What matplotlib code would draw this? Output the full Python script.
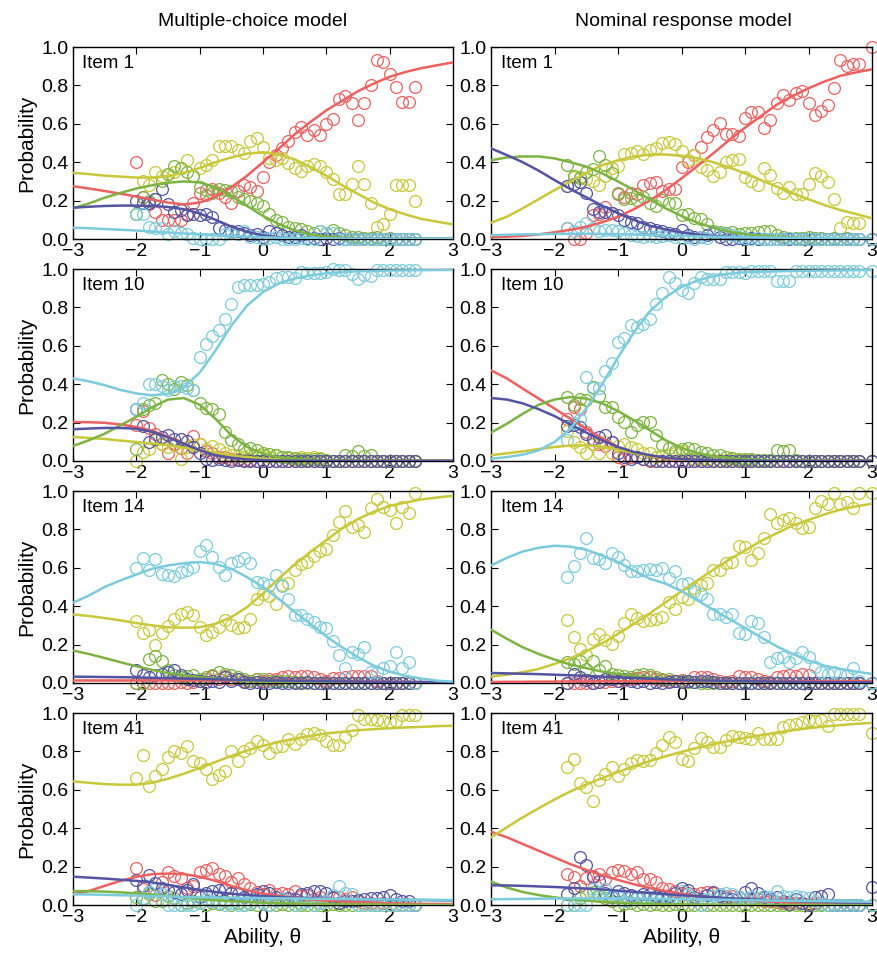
import matplotlib
matplotlib.use("Agg")
import matplotlib.pyplot as plt

plt.rcParams["font.family"] = ["Liberation Sans", "DejaVu Sans"]

# ability grid where the fitted curves were read (step 0.25)
theta = [-3.0, -2.75, -2.5, -2.25, -2.0, -1.75, -1.5, -1.25, -1.0, -0.75, -0.5, -0.25,
         0.0, 0.25, 0.5, 0.75, 1.0, 1.25, 1.5, 1.75, 2.0, 2.25, 2.5, 2.75, 3.0]

# ability bins of the observed proportions
x_mc = [-2.0, -1.9, -1.8, -1.7, -1.6, -1.5, -1.4, -1.3, -1.2, -1.1, -1.0, -0.9, -0.8,
        -0.7, -0.6, -0.5, -0.4, -0.3, -0.2, -0.1, 0.0, 0.1, 0.2, 0.3, 0.4, 0.5, 0.6,
        0.7, 0.8, 0.9, 1.0, 1.1, 1.2, 1.3, 1.4, 1.5, 1.6, 1.7, 1.8, 1.9, 2.0, 2.1,
        2.2, 2.3, 2.4]
x_nr = [-1.8, -1.7, -1.6, -1.5, -1.4, -1.3, -1.2, -1.1, -1.0, -0.9, -0.8, -0.7, -0.6,
        -0.5, -0.4, -0.3, -0.2, -0.1, 0.0, 0.1, 0.2, 0.3, 0.4, 0.5, 0.6, 0.7, 0.8,
        0.9, 1.0, 1.1, 1.2, 1.3, 1.4, 1.5, 1.6, 1.7, 1.8, 1.9, 2.0, 2.1, 2.2, 2.3,
        2.4, 2.5, 2.6, 2.7, 2.8, 3.0]

items = ["Item 1", "Item 10", "Item 14", "Item 41"]
col_titles = ["Multiple-choice model", "Nominal response model"]
options = ["red", "yellow", "green", "blue", "cyan"]
colors = {"red": "#ec6060", "yellow": "#c8c83a", "green": "#7cb442",
          "blue": "#5354a2", "cyan": "#7ccbdc"}

# ---------------- Item 1, multiple-choice ----------------
i1mc_line_red = [0.275, 0.263, 0.25, 0.236, 0.221, 0.205, 0.19, 0.18, 0.19, 0.22, 0.27, 0.33, 0.40,
                 0.47, 0.545, 0.61, 0.67, 0.72, 0.77, 0.81, 0.845, 0.87, 0.89, 0.905, 0.92]
i1mc_line_yellow = [0.345, 0.338, 0.33, 0.325, 0.32, 0.32, 0.328, 0.345, 0.37, 0.40, 0.425, 0.445, 0.452,
                    0.44, 0.415, 0.375, 0.33, 0.28, 0.235, 0.19, 0.155, 0.128, 0.105, 0.09, 0.076]
i1mc_line_green = [0.16, 0.185, 0.215, 0.24, 0.263, 0.28, 0.293, 0.30, 0.295, 0.27, 0.225, 0.172, 0.12,
                   0.078, 0.045, 0.025, 0.013, 0.007, 0.004, 0.002, 0.001, 0.001, 0.001, 0.001, 0.001]
i1mc_line_blue = [0.163, 0.168, 0.172, 0.174, 0.174, 0.172, 0.167, 0.155, 0.133, 0.10, 0.065, 0.037, 0.019,
                  0.009, 0.004, 0.002, 0.001, 0.001, 0.001, 0.001, 0.001, 0.001, 0.001, 0.001, 0.001]
i1mc_line_cyan = [0.059, 0.056, 0.052, 0.048, 0.044, 0.039, 0.034, 0.029, 0.025, 0.02, 0.016, 0.012, 0.009,
                  0.007, 0.005, 0.004, 0.003, 0.002, 0.002, 0.002, 0.001, 0.001, 0.001, 0.001, 0.001]
i1mc_pts_red = [0.40, 0.22, 0.18, 0.14, 0.10, 0.10, 0.10, 0.10, 0.13, 0.19, 0.24, 0.23, 0.26, 0.24, 0.22,
                0.19, 0.25, 0.28, 0.27, 0.25, 0.325, 0.40, 0.44, 0.475, 0.51, 0.555, 0.585, 0.54, 0.57,
                0.54, 0.60, 0.625, 0.73, 0.745, 0.71, 0.62, 0.71, 0.80, 0.93, 0.92, 0.86, 0.79, 0.715,
                0.715, 0.79]
i1mc_pts_yellow = [0.13, 0.30, 0.28, 0.35, 0.33, 0.34, 0.35, 0.37, 0.41, 0.33, 0.37, 0.385, 0.41, 0.485,
                   0.485, 0.485, 0.465, 0.45, 0.51, 0.525, 0.48, 0.42, 0.41, 0.42, 0.395, 0.37, 0.355,
                   0.38, 0.39, 0.38, 0.35, 0.31, 0.235, 0.235, 0.285, 0.38, 0.285, 0.19, 0.06, 0.08,
                   0.13, 0.28, 0.28, 0.28, 0.20]
i1mc_pts_green = [0.13, 0.22, 0.20, 0.21, 0.30, 0.34, 0.38, 0.37, 0.35, 0.33, 0.27, 0.255, 0.24, 0.26,
                  0.255, 0.25, 0.22, 0.21, 0.20, 0.185, 0.17, 0.13, 0.10, 0.09, 0.065, 0.055, 0.05, 0.04,
                  0.03, 0.04, 0.03, 0.047, 0.033, 0.02, 0.01, 0.01, 0.005, 0.005, 0.01, 0.0, 0.005, 0.0,
                  0.0, 0.0, 0.0]
i1mc_pts_blue = [0.20, 0.185, 0.185, 0.21, 0.26, 0.18, 0.14, 0.15, 0.125, 0.13, 0.125, 0.13, 0.115,
                 0.055, 0.047, 0.04, 0.04, 0.03, 0.02, 0.025, 0.012, 0.043, 0.03, 0.02, 0.012, 0.012,
                 0.02, 0.005, 0.005, 0.0, 0.005, 0.0, 0.005, 0.0, 0.0, 0.0, 0.0, 0.0, 0.0, 0.0, 0.0,
                 0.0, 0.0, 0.0, 0.0]
i1mc_pts_cyan = [0.13, 0.13, 0.06, 0.055, 0.055, 0.025, 0.043, 0.03, 0.025, 0.005, 0.0, 0.0, 0.0, 0.0,
                 0.025, 0.03, 0.025, 0.04, 0.012, 0.012, 0.0, 0.005, 0.012, 0.0, 0.0, 0.0, 0.005, 0.0,
                 0.0, 0.04, 0.033, 0.03, 0.0, 0.0, 0.0, 0.0, 0.0, 0.0, 0.0, 0.0, 0.0, 0.0, 0.0, 0.0, 0.0]

# ---------------- Item 1, nominal response ----------------
i1nr_line_red = [0.009, 0.012, 0.016, 0.024, 0.035, 0.048, 0.064, 0.087, 0.116, 0.155, 0.20, 0.255, 0.316,
                 0.38, 0.446, 0.515, 0.58, 0.64, 0.70, 0.745, 0.785, 0.82, 0.85, 0.868, 0.884]
i1nr_line_yellow = [0.085, 0.116, 0.16, 0.207, 0.255, 0.30, 0.345, 0.385, 0.41, 0.43, 0.44, 0.44, 0.434,
                    0.42, 0.40, 0.373, 0.342, 0.307, 0.273, 0.238, 0.207, 0.177, 0.151, 0.13, 0.108]
i1nr_line_green = [0.41, 0.425, 0.43, 0.43, 0.42, 0.40, 0.377, 0.342, 0.30, 0.255, 0.207, 0.16, 0.12,
                   0.085, 0.059, 0.038, 0.026, 0.017, 0.012, 0.008, 0.005, 0.004, 0.003, 0.002, 0.002]
i1nr_line_blue = [0.472, 0.437, 0.40, 0.356, 0.307, 0.26, 0.217, 0.174, 0.134, 0.099, 0.069, 0.05, 0.035,
                  0.023, 0.016, 0.01, 0.007, 0.005, 0.004, 0.003, 0.002, 0.002, 0.001, 0.001, 0.001]
i1nr_line_cyan = [0.02, 0.022, 0.024, 0.025, 0.026, 0.027, 0.027, 0.026, 0.025, 0.023, 0.021, 0.018, 0.016,
                  0.014, 0.012, 0.01, 0.009, 0.008, 0.007, 0.006, 0.005, 0.004, 0.004, 0.003, 0.003]
i1nr_pts_red = [0.055, 0.0, 0.0, 0.03, 0.125, 0.13, 0.165, 0.135, 0.235, 0.22, 0.24, 0.235, 0.28, 0.29,
                0.295, 0.25, 0.26, 0.26, 0.375, 0.40, 0.44, 0.48, 0.53, 0.57, 0.605, 0.545, 0.545, 0.535,
                0.63, 0.66, 0.66, 0.58, 0.62, 0.71, 0.75, 0.725, 0.76, 0.77, 0.71, 0.645, 0.665, 0.70,
                0.785, 0.935, 0.90, 0.91, 0.91, 1.0]
i1nr_pts_yellow = [0.275, 0.325, 0.325, 0.315, 0.30, 0.28, 0.33, 0.37, 0.38, 0.445, 0.45, 0.46, 0.445,
                   0.465, 0.475, 0.50, 0.505, 0.495, 0.46, 0.41, 0.435, 0.375, 0.36, 0.33, 0.35, 0.40,
                   0.41, 0.415, 0.325, 0.30, 0.28, 0.37, 0.335, 0.265, 0.24, 0.27, 0.235, 0.235, 0.285,
                   0.345, 0.33, 0.295, 0.21, 0.055, 0.09, 0.085, 0.085, 0.0]
i1nr_pts_green = [0.385, 0.33, 0.32, 0.35, 0.365, 0.43, 0.385, 0.345, 0.24, 0.21, 0.215, 0.205, 0.22,
                  0.19, 0.17, 0.205, 0.185, 0.19, 0.125, 0.13, 0.11, 0.105, 0.08, 0.04, 0.035, 0.03,
                  0.035, 0.025, 0.03, 0.03, 0.038, 0.043, 0.043, 0.02, 0.01, 0.005, 0.005, 0.005, 0.01,
                  0.005, 0.005, 0.0, 0.005, 0.0, 0.005, 0.0, 0.0, 0.0]
i1nr_pts_blue = [0.275, 0.285, 0.295, 0.24, 0.155, 0.14, 0.14, 0.135, 0.125, 0.10, 0.09, 0.085, 0.065,
                 0.055, 0.047, 0.04, 0.03, 0.025, 0.047, 0.02, 0.012, 0.012, 0.02, 0.03, 0.01, 0.0, 0.0,
                 0.005, 0.0, 0.005, 0.0, 0.0, 0.0, 0.0, 0.0, 0.0, 0.0, 0.0, 0.0, 0.0, 0.0, 0.0, 0.0,
                 0.0, 0.0, 0.0, 0.0, 0.0]
i1nr_pts_cyan = [0.055, 0.04, 0.065, 0.085, 0.055, 0.04, 0.045, 0.045, 0.04, 0.03, 0.02, 0.015, 0.01,
                 0.015, 0.01, 0.015, 0.02, 0.01, 0.005, 0.01, 0.0, 0.01, 0.005, 0.038, 0.033, 0.025,
                 0.02, 0.01, 0.005, 0.0, 0.005, 0.0, 0.0, 0.0, 0.0, 0.005, 0.0, 0.0, 0.0, 0.0, 0.0, 0.0,
                 0.0, 0.0, 0.0, 0.0, 0.0, 0.0]

# ---------------- Item 10, multiple-choice ----------------
i10mc_line_red = [0.203, 0.202, 0.199, 0.19, 0.177, 0.157, 0.127, 0.09, 0.056, 0.03, 0.016, 0.008, 0.004,
                  0.002, 0.001, 0.001, 0.001, 0.001, 0.001, 0.001, 0.001, 0.001, 0.001, 0.001, 0.001]
i10mc_line_yellow = [0.125, 0.12, 0.115, 0.106, 0.099, 0.091, 0.082, 0.07, 0.056, 0.043, 0.03, 0.02, 0.012,
                     0.008, 0.005, 0.003, 0.002, 0.002, 0.001, 0.001, 0.001, 0.001, 0.001, 0.001, 0.001]
i10mc_line_green = [0.078, 0.108, 0.142, 0.186, 0.23, 0.28, 0.32, 0.328, 0.293, 0.22, 0.134, 0.073, 0.038,
                    0.02, 0.012, 0.007, 0.004, 0.002, 0.001, 0.001, 0.001, 0.001, 0.001, 0.001, 0.001]
i10mc_line_blue = [0.165, 0.169, 0.172, 0.172, 0.168, 0.152, 0.123, 0.09, 0.056, 0.03, 0.016, 0.008, 0.004,
                   0.002, 0.001, 0.001, 0.001, 0.001, 0.001, 0.001, 0.001, 0.001, 0.001, 0.001, 0.001]
i10mc_line_cyan = [0.43, 0.415, 0.395, 0.37, 0.352, 0.342, 0.35, 0.385, 0.46, 0.575, 0.705, 0.81, 0.88,
                   0.925, 0.95, 0.967, 0.978, 0.984, 0.988, 0.99, 0.992, 0.993, 0.994, 0.995, 0.995]
i10mc_pts_red = [0.19, 0.26, 0.17, 0.14, 0.09, 0.04, 0.09, 0.07, 0.04, 0.13, 0.09, 0.05, 0.04, 0.02,
                 0.02, 0.01, 0.01, 0.005, 0.005, 0.0, 0.0, 0.0, 0.0, 0.0, 0.0, 0.0, 0.0, 0.0, 0.0, 0.0,
                 0.0, 0.0, 0.0, 0.0, 0.0, 0.0, 0.0, 0.0, 0.0, 0.0, 0.0, 0.0, 0.0, 0.0, 0.0]
i10mc_pts_yellow = [0.0, 0.045, 0.065, 0.11, 0.09, 0.075, 0.085, 0.01, 0.075, 0.085, 0.09, 0.065, 0.08,
                    0.065, 0.04, 0.03, 0.025, 0.02, 0.03, 0.03, 0.03, 0.02, 0.03, 0.02, 0.015, 0.01, 0.02,
                    0.015, 0.02, 0.015, 0.005, 0.0, 0.0, 0.0, 0.0, 0.0, 0.0, 0.0, 0.0, 0.0, 0.0, 0.0, 0.0,
                    0.0, 0.0]
i10mc_pts_green = [0.06, 0.27, 0.29, 0.30, 0.42, 0.40, 0.375, 0.41, 0.395, 0.37, 0.30, 0.275, 0.27,
                   0.245, 0.15, 0.11, 0.09, 0.06, 0.07, 0.055, 0.04, 0.035, 0.03, 0.02, 0.02, 0.015, 0.01,
                   0.005, 0.01, 0.01, 0.005, 0.0, 0.0, 0.03, 0.025, 0.05, 0.025, 0.03, 0.0, 0.0, 0.0, 0.0,
                   0.0, 0.0, 0.0]
i10mc_pts_blue = [0.27, 0.18, 0.10, 0.115, 0.125, 0.135, 0.115, 0.115, 0.105, 0.075, 0.04, 0.01, 0.005,
                  0.01, 0.005, 0.0, 0.005, 0.0, 0.0, 0.0, 0.0, 0.0, 0.0, 0.0, 0.0, 0.0, 0.0, 0.0, 0.0,
                  0.0, 0.0, 0.0, 0.0, 0.0, 0.0, 0.0, 0.0, 0.0, 0.0, 0.0, 0.0, 0.0, 0.0, 0.0, 0.0]
i10mc_pts_cyan = [0.27, 0.30, 0.40, 0.40, 0.39, 0.37, 0.39, 0.39, 0.38, 0.37, 0.54, 0.61, 0.65, 0.68,
                  0.74, 0.82, 0.905, 0.915, 0.915, 0.915, 0.92, 0.93, 0.955, 0.96, 0.96, 0.955, 0.985,
                  0.98, 0.98, 0.98, 0.985, 1.0, 0.995, 0.995, 0.975, 0.95, 0.97, 0.965, 0.995, 0.995,
                  0.995, 0.995, 0.995, 0.995, 0.995]

# ---------------- Item 10, nominal response ----------------
i10nr_line_red = [0.472, 0.43, 0.377, 0.325, 0.273, 0.22, 0.168, 0.118, 0.073, 0.043, 0.024, 0.012, 0.006,
                  0.003, 0.002, 0.001, 0.001, 0.001, 0.001, 0.001, 0.001, 0.001, 0.001, 0.001, 0.001]
i10nr_line_yellow = [0.03, 0.04, 0.05, 0.062, 0.073, 0.08, 0.082, 0.075, 0.059, 0.042, 0.026, 0.016, 0.009,
                     0.005, 0.003, 0.002, 0.001, 0.001, 0.001, 0.001, 0.001, 0.001, 0.001, 0.001, 0.001]
i10nr_line_green = [0.148, 0.194, 0.246, 0.293, 0.32, 0.333, 0.325, 0.30, 0.26, 0.212, 0.16, 0.108, 0.068,
                    0.042, 0.024, 0.016, 0.009, 0.006, 0.004, 0.003, 0.002, 0.002, 0.001, 0.001, 0.001]
i10nr_line_blue = [0.328, 0.32, 0.30, 0.27, 0.234, 0.19, 0.148, 0.108, 0.073, 0.047, 0.03, 0.017, 0.01,
                   0.006, 0.004, 0.003, 0.002, 0.001, 0.001, 0.001, 0.001, 0.001, 0.001, 0.001, 0.001]
i10nr_line_cyan = [0.012, 0.02, 0.033, 0.055, 0.099, 0.168, 0.273, 0.40, 0.54, 0.67, 0.78, 0.854, 0.906,
                   0.94, 0.963, 0.976, 0.983, 0.986, 0.988, 0.99, 0.991, 0.992, 0.993, 0.994, 0.995]
i10nr_pts_red = [0.22, 0.28, 0.27, 0.15, 0.09, 0.09, 0.08, 0.10, 0.02, 0.01, 0.02, 0.02, 0.01, 0.0, 0.0,
                 0.0, 0.0, 0.0, 0.0, 0.0, 0.0, 0.0, 0.0, 0.0, 0.0, 0.0, 0.0, 0.0, 0.0, 0.0, 0.0, 0.0,
                 0.0, 0.0, 0.0, 0.0, 0.0, 0.0, 0.0, 0.0, 0.0, 0.0, 0.0, 0.0, 0.0, 0.0, 0.0, 0.0]
i10nr_pts_yellow = [0.155, 0.10, 0.075, 0.04, 0.09, 0.04, 0.10, 0.04, 0.08, 0.09, 0.075, 0.065, 0.04,
                    0.04, 0.02, 0.03, 0.03, 0.04, 0.05, 0.03, 0.01, 0.01, 0.01, 0.005, 0.005, 0.005, 0.01,
                    0.005, 0.005, 0.005, 0.0, 0.0, 0.0, 0.0, 0.0, 0.0, 0.0, 0.0, 0.0, 0.0, 0.0, 0.0, 0.0,
                    0.0, 0.0, 0.0, 0.0, 0.0]
i10nr_pts_green = [0.335, 0.29, 0.325, 0.32, 0.385, 0.34, 0.28, 0.28, 0.23, 0.205, 0.15, 0.185, 0.205,
                   0.205, 0.135, 0.085, 0.07, 0.05, 0.065, 0.07, 0.065, 0.045, 0.04, 0.03, 0.03, 0.02,
                   0.015, 0.01, 0.01, 0.01, 0.005, 0.005, 0.005, 0.055, 0.05, 0.055, 0.005, 0.0, 0.0, 0.0,
                   0.0, 0.0, 0.0, 0.0, 0.0, 0.0, 0.0, 0.0]
i10nr_pts_blue = [0.18, 0.19, 0.175, 0.14, 0.115, 0.125, 0.135, 0.10, 0.04, 0.02, 0.01, 0.02, 0.01, 0.005,
                  0.0, 0.0, 0.0, 0.0, 0.0, 0.0, 0.0, 0.0, 0.0, 0.0, 0.0, 0.0, 0.0, 0.0, 0.0, 0.0, 0.0,
                  0.0, 0.0, 0.0, 0.0, 0.0, 0.0, 0.0, 0.0, 0.0, 0.0, 0.0, 0.0, 0.0, 0.0, 0.0, 0.0, 0.0]
i10nr_pts_cyan = [0.11, 0.2, 0.22, 0.44, 0.38, 0.38, 0.47, 0.51, 0.62, 0.64, 0.71, 0.70, 0.715, 0.74,
                  0.82, 0.875, 0.96, 0.925, 0.89, 0.875, 0.925, 0.96, 0.95, 0.95, 0.95, 0.985, 0.985,
                  0.985, 0.98, 0.99, 0.99, 0.99, 0.99, 0.94, 0.94, 0.94, 0.99, 0.99, 0.99, 0.99, 0.99,
                  0.99, 0.99, 0.99, 0.99, 0.99, 0.99, 0.99]

# ---------------- Item 14, multiple-choice ----------------
i14mc_line_red = [0.013, 0.013, 0.013, 0.013, 0.013, 0.013, 0.013, 0.013, 0.013, 0.013, 0.013, 0.013,
                  0.012, 0.012, 0.011, 0.011, 0.01, 0.009, 0.008, 0.007, 0.006, 0.005, 0.005, 0.004, 0.004]
i14mc_line_yellow = [0.357, 0.349, 0.338, 0.326, 0.312, 0.30, 0.29, 0.288, 0.29, 0.308, 0.343, 0.395,
                     0.466, 0.544, 0.617, 0.683, 0.744, 0.805, 0.854, 0.892, 0.922, 0.94, 0.956, 0.966,
                     0.975]
i14mc_line_green = [0.169, 0.151, 0.13, 0.108, 0.087, 0.068, 0.052, 0.04, 0.03, 0.023, 0.016, 0.01, 0.007,
                    0.005, 0.004, 0.003, 0.002, 0.002, 0.001, 0.001, 0.001, 0.001, 0.001, 0.001, 0.001]
i14mc_line_blue = [0.033, 0.032, 0.031, 0.03, 0.029, 0.027, 0.025, 0.023, 0.021, 0.019, 0.017, 0.015,
                   0.013, 0.012, 0.011, 0.01, 0.009, 0.008, 0.007, 0.006, 0.006, 0.005, 0.005, 0.004, 0.004]
i14mc_line_cyan = [0.418, 0.455, 0.50, 0.534, 0.565, 0.595, 0.612, 0.624, 0.63, 0.62, 0.595, 0.551, 0.50,
                   0.438, 0.369, 0.308, 0.242, 0.186, 0.134, 0.09, 0.059, 0.037, 0.023, 0.012, 0.007]
i14mc_pts_red = [0.0, 0.0, 0.0, 0.0, 0.0, 0.0, 0.0, 0.005, 0.0, 0.005, 0.01, 0.02, 0.035, 0.02, 0.035,
                 0.02, 0.02, 0.01, 0.01, 0.02, 0.01, 0.02, 0.02, 0.03, 0.035, 0.03, 0.035, 0.035, 0.03,
                 0.02, 0.01, 0.025, 0.025, 0.03, 0.035, 0.035, 0.035, 0.035, 0.01, 0.0, 0.0, 0.0, 0.0,
                 0.0, 0.0]
i14mc_pts_yellow = [0.325, 0.26, 0.275, 0.20, 0.26, 0.295, 0.335, 0.36, 0.37, 0.355, 0.29, 0.25, 0.265,
                    0.29, 0.33, 0.30, 0.285, 0.29, 0.335, 0.44, 0.465, 0.455, 0.41, 0.51, 0.52, 0.59,
                    0.62, 0.63, 0.66, 0.69, 0.70, 0.77, 0.84, 0.895, 0.815, 0.825, 0.785, 0.91, 0.96,
                    0.915, 0.90, 0.835, 0.915, 0.885, 0.99]
i14mc_pts_green = [0.0, 0.0, 0.125, 0.14, 0.115, 0.065, 0.04, 0.03, 0.035, 0.04, 0.02, 0.03, 0.04, 0.055,
                   0.045, 0.04, 0.03, 0.02, 0.01, 0.02, 0.02, 0.01, 0.01, 0.01, 0.01, 0.005, 0.005, 0.0,
                   0.0, 0.0, 0.0, 0.0, 0.0, 0.0, 0.0, 0.0, 0.0, 0.0, 0.0, 0.0, 0.0, 0.0, 0.0, 0.0, 0.0]
i14mc_pts_blue = [0.065, 0.04, 0.03, 0.04, 0.045, 0.055, 0.065, 0.04, 0.02, 0.015, 0.01, 0.005, 0.01,
                  0.005, 0.03, 0.01, 0.02, 0.005, 0.0, 0.005, 0.0, 0.0, 0.005, 0.0, 0.0, 0.0, 0.0, 0.005,
                  0.0, 0.0, 0.0, 0.0, 0.0, 0.0, 0.0, 0.0, 0.0, 0.0, 0.0, 0.0, 0.0, 0.0, 0.0, 0.0, 0.0]
i14mc_pts_cyan = [0.60, 0.65, 0.59, 0.645, 0.57, 0.565, 0.555, 0.58, 0.59, 0.605, 0.685, 0.72, 0.655,
                  0.605, 0.565, 0.625, 0.635, 0.65, 0.625, 0.525, 0.52, 0.51, 0.56, 0.505, 0.435, 0.355,
                  0.355, 0.335, 0.32, 0.29, 0.285, 0.22, 0.145, 0.08, 0.16, 0.15, 0.185, 0.055, 0.055,
                  0.08, 0.09, 0.16, 0.08, 0.11, 0.0]

# ---------------- Item 14, nominal response ----------------
i14nr_line_red = [0.005, 0.006, 0.006, 0.007, 0.007, 0.008, 0.008, 0.009, 0.009, 0.01, 0.01, 0.01, 0.01,
                  0.01, 0.01, 0.01, 0.01, 0.01, 0.01, 0.01, 0.01, 0.01, 0.01, 0.01, 0.01]
i14nr_line_yellow = [0.033, 0.043, 0.056, 0.073, 0.099, 0.129, 0.165, 0.207, 0.256, 0.308, 0.363, 0.42,
                     0.478, 0.534, 0.59, 0.642, 0.69, 0.739, 0.78, 0.82, 0.85, 0.878, 0.903, 0.92, 0.934]
i14nr_line_green = [0.278, 0.23, 0.186, 0.151, 0.122, 0.096, 0.077, 0.059, 0.047, 0.037, 0.028, 0.021,
                    0.016, 0.012, 0.009, 0.007, 0.005, 0.004, 0.003, 0.003, 0.002, 0.002, 0.001, 0.001,
                    0.001]
i14nr_line_blue = [0.052, 0.05, 0.048, 0.046, 0.043, 0.04, 0.037, 0.033, 0.029, 0.026, 0.023, 0.019, 0.016,
                   0.014, 0.012, 0.01, 0.009, 0.008, 0.007, 0.006, 0.005, 0.004, 0.004, 0.003, 0.003]
i14nr_line_cyan = [0.612, 0.652, 0.685, 0.704, 0.715, 0.71, 0.694, 0.664, 0.63, 0.586, 0.543, 0.517,
                   0.478, 0.43, 0.381, 0.334, 0.287, 0.238, 0.191, 0.151, 0.117, 0.09, 0.073, 0.059, 0.047]
i14nr_pts_red = [0.0, 0.0, 0.0, 0.0, 0.0, 0.005, 0.005, 0.01, 0.01, 0.015, 0.02, 0.025, 0.03, 0.03, 0.02,
                 0.015, 0.01, 0.01, 0.015, 0.01, 0.03, 0.03, 0.03, 0.02, 0.01, 0.005, 0.01, 0.035, 0.03,
                 0.03, 0.02, 0.01, 0.005, 0.03, 0.035, 0.04, 0.035, 0.045, 0.04, 0.0, 0.0, 0.0, 0.0, 0.0,
                 0.0, 0.0, 0.0, 0.0]
i14nr_pts_yellow = [0.33, 0.24, 0.175, 0.145, 0.23, 0.255, 0.225, 0.205, 0.245, 0.31, 0.36, 0.34, 0.325,
                    0.33, 0.335, 0.345, 0.42, 0.385, 0.45, 0.44, 0.495, 0.51, 0.52, 0.59, 0.59, 0.625,
                    0.63, 0.715, 0.71, 0.64, 0.675, 0.755, 0.88, 0.835, 0.85, 0.86, 0.835, 0.805, 0.815,
                    0.91, 0.95, 0.93, 0.99, 0.93, 0.945, 0.91, 0.99, 0.99]
i14nr_pts_green = [0.11, 0.10, 0.115, 0.075, 0.115, 0.065, 0.09, 0.045, 0.04, 0.035, 0.03, 0.04, 0.045,
                   0.04, 0.03, 0.02, 0.02, 0.01, 0.01, 0.005, 0.005, 0.0, 0.0, 0.0, 0.0, 0.0, 0.0, 0.0,
                   0.0, 0.0, 0.0, 0.0, 0.0, 0.0, 0.0, 0.0, 0.0, 0.0, 0.0, 0.0, 0.0, 0.0, 0.0, 0.0, 0.0,
                   0.0, 0.0, 0.0]
i14nr_pts_blue = [0.0, 0.045, 0.03, 0.015, 0.0, 0.005, 0.02, 0.02, 0.01, 0.02, 0.01, 0.005, 0.01, 0.0,
                  0.005, 0.0, 0.005, 0.01, 0.005, 0.01, 0.005, 0.01, 0.01, 0.005, 0.0, 0.0, 0.0, 0.0,
                  0.0, 0.0, 0.0, 0.0, 0.0, 0.0, 0.0, 0.0, 0.0, 0.0, 0.0, 0.0, 0.0, 0.0, 0.0, 0.0, 0.0,
                  0.0, 0.0, 0.0]
i14nr_pts_cyan = [0.55, 0.61, 0.675, 0.755, 0.65, 0.645, 0.625, 0.675, 0.655, 0.615, 0.585, 0.585, 0.59,
                  0.595, 0.59, 0.60, 0.545, 0.585, 0.515, 0.52, 0.48, 0.465, 0.44, 0.36, 0.36, 0.345,
                  0.36, 0.26, 0.255, 0.325, 0.31, 0.24, 0.11, 0.13, 0.135, 0.11, 0.13, 0.16, 0.135,
                  0.085, 0.055, 0.045, 0.055, 0.045, 0.04, 0.08, 0.01, 0.0]

# ---------------- Item 41, multiple-choice ----------------
i41mc_line_red = [0.056, 0.073, 0.10, 0.126, 0.147, 0.161, 0.164, 0.161, 0.148, 0.126, 0.10, 0.077, 0.059,
                  0.047, 0.038, 0.03, 0.024, 0.019, 0.016, 0.012, 0.009, 0.008, 0.006, 0.006, 0.005]
i41mc_line_yellow = [0.644, 0.637, 0.63, 0.627, 0.627, 0.637, 0.658, 0.684, 0.714, 0.745, 0.777, 0.805,
                     0.829, 0.85, 0.867, 0.881, 0.894, 0.902, 0.911, 0.916, 0.921, 0.925, 0.928, 0.932,
                     0.934]
i41mc_line_green = [0.073, 0.072, 0.07, 0.066, 0.061, 0.055, 0.048, 0.04, 0.032, 0.025, 0.02, 0.016, 0.012,
                    0.01, 0.008, 0.006, 0.005, 0.004, 0.003, 0.003, 0.002, 0.002, 0.001, 0.001, 0.001]
i41mc_line_blue = [0.148, 0.143, 0.138, 0.132, 0.126, 0.118, 0.105, 0.092, 0.079, 0.068, 0.059, 0.052,
                   0.047, 0.042, 0.038, 0.035, 0.033, 0.031, 0.03, 0.029, 0.028, 0.027, 0.026, 0.025, 0.024]
i41mc_line_cyan = [0.056, 0.055, 0.053, 0.051, 0.049, 0.047, 0.045, 0.042, 0.04, 0.039, 0.038, 0.037,
                   0.036, 0.035, 0.034, 0.033, 0.032, 0.031, 0.03, 0.029, 0.029, 0.028, 0.027, 0.027, 0.026]
i41mc_pts_red = [0.195, 0.085, 0.07, 0.05, 0.12, 0.17, 0.15, 0.14, 0.09, 0.10, 0.17, 0.185, 0.195, 0.16,
                 0.15, 0.12, 0.14, 0.11, 0.09, 0.07, 0.06, 0.08, 0.055, 0.065, 0.06, 0.075, 0.045, 0.05,
                 0.03, 0.04, 0.02, 0.035, 0.04, 0.03, 0.04, 0.02, 0.01, 0.01, 0.0, 0.01, 0.0, 0.0, 0.0,
                 0.0, 0.0]
i41mc_pts_yellow = [0.66, 0.78, 0.62, 0.67, 0.71, 0.77, 0.80, 0.79, 0.83, 0.75, 0.74, 0.71, 0.655, 0.675,
                    0.70, 0.80, 0.75, 0.805, 0.82, 0.855, 0.835, 0.79, 0.825, 0.83, 0.865, 0.84, 0.865,
                    0.89, 0.895, 0.885, 0.855, 0.835, 0.835, 0.875, 0.91, 0.99, 0.97, 0.97, 0.965, 0.96,
                    0.955, 0.96, 0.99, 0.99, 0.99]
i41mc_pts_green = [0.04, 0.03, 0.06, 0.02, 0.02, 0.045, 0.035, 0.0, 0.01, 0.02, 0.01, 0.0, 0.01, 0.005,
                   0.02, 0.0, 0.01, 0.0, 0.005, 0.0, 0.01, 0.0, 0.0, 0.005, 0.0, 0.0, 0.0, 0.0, 0.0, 0.0,
                   0.0, 0.005, 0.0, 0.0, 0.0, 0.0, 0.0, 0.0, 0.0, 0.0, 0.0, 0.0, 0.0, 0.0, 0.0]
i41mc_pts_blue = [0.13, 0.10, 0.155, 0.115, 0.09, 0.08, 0.07, 0.06, 0.08, 0.11, 0.04, 0.065, 0.075, 0.08,
                  0.085, 0.065, 0.055, 0.04, 0.045, 0.055, 0.075, 0.065, 0.04, 0.03, 0.035, 0.03, 0.06,
                  0.065, 0.075, 0.075, 0.065, 0.04, 0.01, 0.02, 0.02, 0.025, 0.03, 0.035, 0.035, 0.04,
                  0.05, 0.03, 0.02, 0.02, 0.0]
i41mc_pts_cyan = [0.0, 0.035, 0.07, 0.085, 0.06, 0.0, 0.0, 0.0, 0.0, 0.0, 0.01, 0.03, 0.02, 0.01, 0.0,
                  0.01, 0.0, 0.0, 0.01, 0.04, 0.01, 0.0, 0.02, 0.03, 0.02, 0.0, 0.01, 0.02, 0.0, 0.01,
                  0.02, 0.05, 0.10, 0.065, 0.055, 0.0, 0.0, 0.0, 0.0, 0.0, 0.0, 0.0, 0.0, 0.0, 0.0]

# ---------------- Item 41, nominal response ----------------
i41nr_line_red = [0.382, 0.353, 0.318, 0.283, 0.248, 0.213, 0.183, 0.155, 0.131, 0.108, 0.089, 0.073,
                  0.059, 0.047, 0.038, 0.031, 0.024, 0.021, 0.016, 0.012, 0.01, 0.009, 0.007, 0.007, 0.005]
i41nr_line_yellow = [0.353, 0.405, 0.457, 0.504, 0.55, 0.592, 0.628, 0.661, 0.693, 0.723, 0.75, 0.775,
                     0.798, 0.819, 0.838, 0.855, 0.871, 0.885, 0.899, 0.911, 0.921, 0.93, 0.937, 0.944,
                     0.949]
i41nr_line_green = [0.122, 0.091, 0.068, 0.052, 0.04, 0.03, 0.023, 0.017, 0.012, 0.009, 0.007, 0.005,
                    0.004, 0.003, 0.002, 0.002, 0.001, 0.001, 0.001, 0.001, 0.001, 0.001, 0.001, 0.001,
                    0.001]
i41nr_line_blue = [0.103, 0.102, 0.10, 0.097, 0.094, 0.09, 0.086, 0.081, 0.075, 0.069, 0.063, 0.057, 0.051,
                   0.046, 0.041, 0.036, 0.031, 0.027, 0.024, 0.021, 0.018, 0.016, 0.014, 0.013, 0.012]
i41nr_line_cyan = [0.03, 0.031, 0.032, 0.033, 0.034, 0.034, 0.035, 0.035, 0.034, 0.034, 0.033, 0.032,
                   0.031, 0.03, 0.029, 0.027, 0.025, 0.024, 0.023, 0.022, 0.021, 0.02, 0.019, 0.018, 0.017]
i41nr_pts_red = [0.16, 0.145, 0.10, 0.14, 0.15, 0.16, 0.135, 0.17, 0.185, 0.175, 0.16, 0.17, 0.135, 0.135,
                 0.12, 0.09, 0.085, 0.075, 0.065, 0.065, 0.055, 0.065, 0.07, 0.065, 0.055, 0.045, 0.045,
                 0.04, 0.03, 0.025, 0.03, 0.02, 0.02, 0.015, 0.01, 0.015, 0.01, 0.01, 0.005, 0.01, 0.005,
                 0.0, 0.0, 0.0, 0.0, 0.0, 0.0, 0.0]
i41nr_pts_yellow = [0.72, 0.76, 0.635, 0.615, 0.54, 0.65, 0.685, 0.72, 0.67, 0.71, 0.74, 0.755, 0.75,
                    0.755, 0.79, 0.835, 0.875, 0.85, 0.76, 0.75, 0.82, 0.87, 0.85, 0.825, 0.825, 0.86,
                    0.88, 0.875, 0.87, 0.865, 0.895, 0.865, 0.865, 0.865, 0.925, 0.94, 0.945, 0.955,
                    0.965, 0.96, 0.965, 0.935, 0.995, 0.995, 0.995, 0.995, 0.995, 0.895]
i41nr_pts_green = [0.0, 0.0, 0.035, 0.06, 0.07, 0.045, 0.035, 0.02, 0.0, 0.005, 0.01, 0.0, 0.005, 0.0,
                   0.005, 0.0, 0.0, 0.005, 0.0, 0.0, 0.0, 0.0, 0.0, 0.0, 0.0, 0.0, 0.0, 0.0, 0.0, 0.0,
                   0.0, 0.0, 0.0, 0.0, 0.0, 0.0, 0.0, 0.0, 0.0, 0.0, 0.0, 0.0, 0.0, 0.0, 0.0, 0.0, 0.0,
                   0.0]
i41nr_pts_blue = [0.055, 0.09, 0.25, 0.21, 0.145, 0.125, 0.065, 0.04, 0.075, 0.065, 0.05, 0.04, 0.06,
                  0.055, 0.045, 0.04, 0.045, 0.065, 0.09, 0.08, 0.04, 0.03, 0.05, 0.07, 0.045, 0.035,
                  0.03, 0.04, 0.07, 0.09, 0.065, 0.04, 0.03, 0.04, 0.02, 0.005, 0.03, 0.01, 0.0, 0.04,
                  0.045, 0.055, 0.0, 0.0, 0.0, 0.0, 0.0, 0.095]
i41nr_pts_cyan = [0.0, 0.0, 0.0, 0.0, 0.085, 0.065, 0.085, 0.045, 0.04, 0.02, 0.04, 0.035, 0.04, 0.04,
                  0.03, 0.03, 0.03, 0.04, 0.075, 0.055, 0.03, 0.0, 0.03, 0.045, 0.06, 0.065, 0.055, 0.04,
                  0.03, 0.04, 0.035, 0.045, 0.04, 0.075, 0.045, 0.04, 0.045, 0.04, 0.035, 0.02, 0.005,
                  0.0, 0.0, 0.0, 0.0, 0.0, 0.0, 0.0]

g = globals()
prefixes = [["i1mc", "i1nr"], ["i10mc", "i10nr"], ["i14mc", "i14nr"], ["i41mc", "i41nr"]]

fig = plt.figure(figsize=(8.77, 9.56), dpi=100)
col_left = [0.0832, 0.5599]
col_width = [0.4333, 0.4344]
row_bottom = [0.750, 0.5178, 0.2856, 0.0533]
row_height = 0.2008

for r in range(4):
    for c in range(2):
        ax = fig.add_axes([col_left[c], row_bottom[r], col_width[c], row_height])
        p = prefixes[r][c]
        xs = x_mc if c == 0 else x_nr
        for opt in options:
            col = colors[opt]
            ax.plot(theta, g[p + "_line_" + opt], color=col, lw=1.8, zorder=3)
            ax.plot(xs, g[p + "_pts_" + opt], linestyle="none", marker="o", ms=8.5,
                    mfc="none", mec=col, mew=0.9, zorder=2, clip_on=False)
        ax.set_xlim(-3, 3)
        ax.set_ylim(0, 1)
        ax.set_xticks([-3, -2, -1, 0, 1, 2, 3])
        ax.set_yticks([0, 0.2, 0.4, 0.6, 0.8, 1.0])
        ax.set_yticklabels(["0.0", "0.2", "0.4", "0.6", "0.8", "1.0"])
        ax.tick_params(direction="in", top=True, right=True, length=5, width=0.8,
                       labelsize=14, pad=3)
        for s in ax.spines.values():
            s.set_linewidth(1.0)
        ax.text(0.025, 0.915, items[r], transform=ax.transAxes, fontsize=13.5,
                ha="left", va="center")
        if c == 0:
            ax.set_ylabel("Probability", fontsize=15, labelpad=4)
        if r == 3:
            ax.set_xlabel("Ability, \u03b8", fontsize=15, labelpad=1)

fig.text(253 / 877, 1 - 22 / 956, col_titles[0], fontsize=14, ha="center", va="center")
fig.text(683 / 877, 1 - 22 / 956, col_titles[1], fontsize=14, ha="center", va="center")

fig.savefig("out.png", dpi=100)
